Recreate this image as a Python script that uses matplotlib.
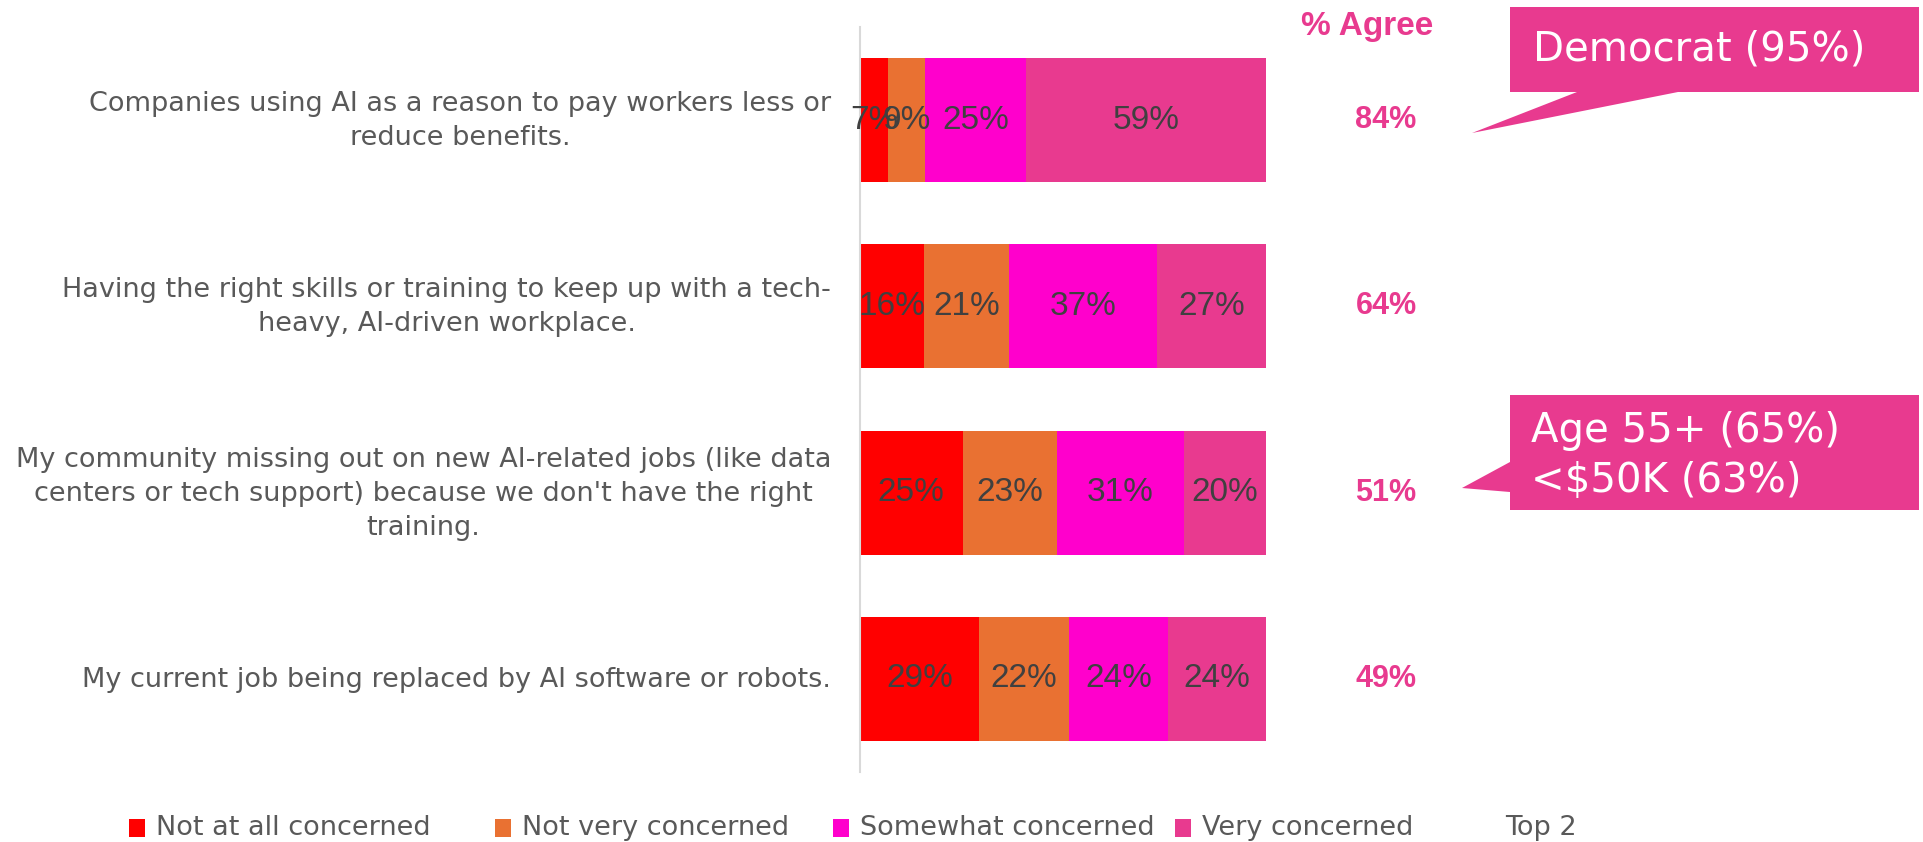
import matplotlib
matplotlib.use("Agg")
import matplotlib.pyplot as plt
from matplotlib.patches import Polygon, Rectangle

# ---------------- data ----------------
categories = [
    "Companies using AI as a reason to pay workers less or\nreduce benefits.",
    "Having the right skills or training to keep up with a tech-\nheavy, AI-driven workplace.",
    "My community missing out on new AI-related jobs (like data\ncenters or tech support) because we don't have the right\ntraining.",
    "My current job being replaced by AI software or robots.",
]
series_names = ["Not at all concerned", "Not very concerned", "Somewhat concerned", "Very concerned"]
not_at_all = [7, 16, 25, 29]
not_very = [9, 21, 23, 22]
somewhat = [25, 37, 31, 24]
very = [59, 27, 20, 24]
top2 = [84, 64, 51, 49]
callout_1 = ["Democrat (95%)"]
callout_3 = ["Age 55+ (65%)", "<$50K (63%)"]

colors = ["#FF0000", "#E97132", "#FF00CC", "#E83A8F"]
pink = "#E83A8F"
label_gray = "#595959"
value_gray = "#404040"

W, H = 1923, 842
fig = plt.figure(figsize=(W / 100, H / 100), dpi=100)
fig.patch.set_facecolor("white")

def fx(x):
    return x / W

def fy(y):
    return 1 - y / H

# axes: left edge at 860px, 100% == 406px, top 27px, bottom 772px
ax_left, ax_top, ax_bot = 860, 27, 772
px_per_pct = 406 / 100
ax = fig.add_axes([fx(ax_left), fy(ax_bot), 1 - fx(ax_left), (ax_bot - ax_top) / H])
ax.set_xlim(0, (W - ax_left) / px_per_pct)
ax.set_ylim(3.5, -0.5)

series = [not_at_all, not_very, somewhat, very]
totals = [sum(v) for v in zip(*series)]
ypos = list(range(len(categories)))
left = [0.0] * len(categories)
for vals, col in zip(series, colors):
    widths = [v / t * 100 for v, t in zip(vals, totals)]  # rows shown as 100% stacks
    bars = ax.barh(ypos, widths, left=left, height=0.667, color=col, edgecolor="none")
    for b, v in zip(bars, vals):
        ax.text(b.get_x() + b.get_width() / 2, b.get_y() + b.get_height() / 2, f"{v}%",
                ha="center", va="center", fontsize=24, color=value_gray,
                family=["Liberation Sans", "DejaVu Sans"])
    left = [l + w for l, w in zip(left, widths)]

# % Agree column
agree_x = (1386 - ax_left) / px_per_pct
ax.text((1367 - ax_left) / px_per_pct, -0.5, "% Agree", ha="center", va="center",
        fontsize=24, fontweight="bold", color=pink, clip_on=False,
        family=["Liberation Sans", "DejaVu Sans"])
for y, v in zip(ypos, top2):
    ax.text(agree_x, y, f"{v}%", ha="center", va="center", fontsize=22,
            fontweight="bold", color=pink, clip_on=False,
            family=["Liberation Sans", "DejaVu Sans"])

# axes styling
for s in ["top", "right", "bottom"]:
    ax.spines[s].set_visible(False)
ax.spines["left"].set_color("#D9D9D9")
ax.spines["left"].set_linewidth(1.5)
ax.set_xticks([])
ax.set_yticks(ypos)
ax.set_yticklabels([])
ax.tick_params(axis="y", length=0)

# category labels, right-aligned block, centred lines
label_x = -(ax_left - 831) / px_per_pct
for y, cat in zip(ypos, categories):
    ax.text(label_x, y + 0.005, cat, ha="right", va="center", multialignment="center",
            linespacing=1.4, color=label_gray, family=["DejaVu Sans"], fontsize=19.5,
            clip_on=False)

# callouts
def poly(points):
    return Polygon([(fx(x), fy(y)) for x, y in points], closed=True,
                   transform=fig.transFigure, facecolor=pink, edgecolor="none")

fig.patches.append(poly([(1510, 7), (1919, 7), (1919, 92), (1678, 92), (1472, 133),
                         (1577, 92), (1510, 92)]))
fig.text(fx(1533), fy(50), callout_1[0], ha="left", va="center", fontsize=29,
         color="white", family=["DejaVu Sans"])
fig.patches.append(poly([(1510, 395), (1919, 395), (1919, 510), (1510, 510), (1510, 492),
                         (1462, 488), (1510, 462)]))
fig.text(fx(1531), fy(456), "\n".join(callout_3), ha="left", va="center", fontsize=29,
         color="white", family=["DejaVu Sans"], linespacing=1.35)

# legend (manual)
leg_y = 828
marker_x = [129, 495, 833, 1175, 1478]
leg_names = series_names + ["Top 2"]
leg_colors = colors + ["white"]
for mx, name, col in zip(marker_x, leg_names, leg_colors):
    fig.patches.append(Rectangle((fx(mx), fy(leg_y + 9)), 16 / W, 18 / H,
                                 transform=fig.transFigure, facecolor=col, edgecolor="none"))
    fig.text(fx(mx + 27), fy(leg_y), name, ha="left", va="center", color=label_gray,
             family=["DejaVu Sans"], fontsize=19.5)

fig.savefig("out.png", dpi=100, facecolor="white")
